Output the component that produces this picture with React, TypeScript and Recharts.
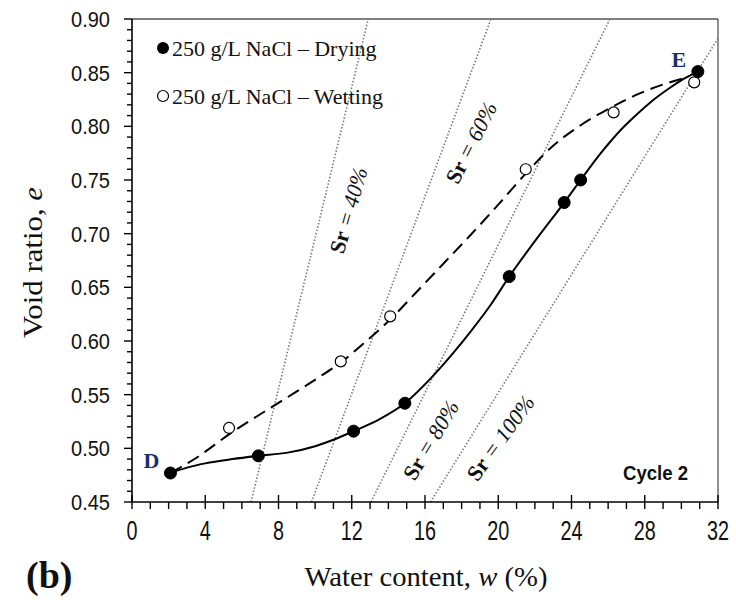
import {
  ComposedChart,
  Line,
  XAxis,
  YAxis,
  ReferenceLine,
  ReferenceDot,
  Legend,
} from "recharts"

// drying branch, D -> E (filled markers)
const dryW = [2.1, 6.9, 12.1, 14.9, 20.6, 23.6, 24.5, 30.9]
const dryE = [0.477, 0.493, 0.516, 0.542, 0.66, 0.729, 0.75, 0.851]

// wetting branch (open markers)
const wetW = [5.3, 11.4, 14.1, 21.5, 26.3, 30.7]
const wetE = [0.519, 0.581, 0.623, 0.76, 0.813, 0.841]

// fitted drying curve (solid)
const dryFitW = [2.1, 3.0, 4.0, 5.5, 6.9, 8.5, 10.0, 11.0, 12.1, 13.5, 14.9, 16.3, 17.5, 18.5, 19.6, 20.6, 22.0, 23.6, 24.5, 25.6, 26.6, 27.5, 28.5, 29.3, 30.1, 30.9]
const dryFitE = [0.477, 0.482, 0.486, 0.49, 0.493, 0.496, 0.502, 0.508, 0.516, 0.527, 0.542, 0.565, 0.588, 0.609, 0.634, 0.66, 0.693, 0.729, 0.75, 0.775, 0.795, 0.81, 0.825, 0.835, 0.844, 0.851]

// fitted wetting curve (dashed)
const wetFitW = [2.1, 3.5, 5.3, 7.4, 9.0, 10.1, 11.4, 12.8, 14.1, 15.5, 17.0, 18.5, 20.0, 21.5, 23.0, 24.5, 26.0, 27.5, 29.0, 30.4]
const wetFitE = [0.477, 0.491, 0.513, 0.536, 0.553, 0.565, 0.58, 0.6, 0.62, 0.645, 0.672, 0.699, 0.727, 0.756, 0.782, 0.801, 0.816, 0.829, 0.839, 0.846]

// degree of saturation iso-lines: end points in (w, e)
const srNames = ["40%", "60%", "80%", "100%"]
const srFromW = [6.5, 9.8, 13.05, 16.3]
const srFromE = [0.45, 0.45, 0.45, 0.45]
const srToW = [12.9, 19.6, 26.1, 32]
const srToE = [0.9, 0.9, 0.9, 0.882]

const xLabels = [0, 4, 8, 12, 16, 20, 24, 28, 32]
const yLabels = [0.45, 0.5, 0.55, 0.6, 0.65, 0.7, 0.75, 0.8, 0.85, 0.9]

// label placement for the Sr lines (data coords + text slant)
const srNotes = [
  { w: 11.8, e: 0.722, angle: -74 },
  { w: 18.5, e: 0.785, angle: -63 },
  { w: 16.3, e: 0.508, angle: -59 },
  { w: 20.1, e: 0.51, angle: -54 },
]

const dryData = dryW.map((w, i) => ({ w, e: dryE[i] }))
const wetData = wetW.map((w, i) => ({ w, e: wetE[i] }))
const dryFit = dryFitW.map((w, i) => ({ w, e: dryFitE[i] }))
const wetFit = wetFitW.map((w, i) => ({ w, e: wetFitE[i] }))

const xTicks = Array.from({ length: 33 }, (_, i) => i)
const yTicks = Array.from({ length: 46 }, (_, i) => Math.round((0.45 + i * 0.01) * 100) / 100)

const SANS = "'Liberation Sans', Arial, sans-serif"
const SERIF = "'Liberation Serif', 'Times New Roman', serif"
const NAVY = "#1c2f6b"

const XTick = (props: any) => {
  const { x, y, payload } = props
  const v = payload.value
  const major = xLabels.includes(v)
  const s = String(v)
  return (
    <g>
      <line x1={x} x2={x} y1={major ? y - 7 : y} y2={y + 7} stroke="#000" strokeWidth={1.4} />
      {major && (
        <text
          x={x}
          y={y + 38}
          textAnchor="middle"
          fontFamily={SANS}
          fontSize={27}
          textLength={s.length * 11}
          lengthAdjust="spacingAndGlyphs"
          fill="#111"
        >
          {s}
        </text>
      )}
    </g>
  )
}

const YTick = (props: any) => {
  const { x, y, payload } = props
  const v = payload.value
  const major = yLabels.some((l) => Math.abs(l - v) < 1e-9)
  return (
    <g>
      <line x1={major ? x - 8 : x - 5} x2={x} y1={y} y2={y} stroke="#000" strokeWidth={1.4} />
      {major && (
        <text
          x={x - 22}
          y={y + 8}
          textAnchor="end"
          fontFamily={SANS}
          fontSize={22}
          textLength={39}
          lengthAdjust="spacingAndGlyphs"
          fill="#111"
        >
          {v.toFixed(2)}
        </text>
      )}
    </g>
  )
}

const XTitle = (props: any) => {
  const { viewBox } = props
  return (
    <text
      x={viewBox.x + viewBox.width / 2 + 1}
      y={viewBox.y + 84}
      textAnchor="middle"
      fontFamily={SERIF}
      fontSize={27}
      textLength={243}
      lengthAdjust="spacingAndGlyphs"
      fill="#111"
    >
      Water content, <tspan fontStyle="italic">w</tspan> (%)
    </text>
  )
}

const YTitle = (props: any) => {
  const { viewBox } = props
  const cy = viewBox.y + viewBox.height / 2 + 2
  return (
    <text
      x={42}
      y={cy}
      transform={`rotate(-90, 42, ${cy})`}
      textAnchor="middle"
      fontFamily={SERIF}
      fontSize={27}
      textLength={151}
      lengthAdjust="spacingAndGlyphs"
      fill="#111"
    >
      Void ratio, <tspan fontStyle="italic">e</tspan>
    </text>
  )
}

const LegendBox = () => (
  <svg width={260} height={84} style={{ display: "block" }}>
    <circle cx={13} cy={18} r={6} fill="#000" />
    <text x={22} y={26} fontFamily={SERIF} fontSize={22} fill="#111">
      250 g/L NaCl – Drying
    </text>
    <circle cx={13} cy={66} r={5.5} fill="#fff" stroke="#000" strokeWidth={1.2} />
    <text x={22} y={74} fontFamily={SERIF} fontSize={22} fill="#111">
      250 g/L NaCl – Wetting
    </text>
  </svg>
)

const srLabel = (name: string, angle: number) => (p: any) => (
  <text
    x={p.cx}
    y={p.cy}
    transform={`rotate(${angle}, ${p.cx}, ${p.cy})`}
    textAnchor="middle"
    dominantBaseline="central"
    fontFamily={SERIF}
    fontSize={22}
    fill="#111"
  >
    <tspan fontWeight="bold">Sr</tspan>
    <tspan fontStyle="italic"> = {name}</tspan>
  </text>
)

const pointTag = (text: string, dx: number, dy: number) => (p: any) => (
  <text
    x={p.cx + dx}
    y={p.cy + dy}
    textAnchor="middle"
    fontFamily={SERIF}
    fontWeight="bold"
    fontSize={22}
    fill={NAVY}
  >
    {text}
  </text>
)

const cycleTag = (p: any) => (
  <text
    x={p.cx - 30}
    y={p.cy - 22}
    textAnchor="end"
    fontFamily={SANS}
    fontWeight="bold"
    fontSize={21}
    textLength={65}
    lengthAdjust="spacingAndGlyphs"
    fill="#111"
  >
    Cycle 2
  </text>
)

export default function App() {
  const last = dryData.length - 1
  return (
    <div style={{ position: "absolute", left: 0, top: 0, width: 736, height: 600, background: "#fff" }}>
      <ComposedChart width={736} height={600} margin={{ top: 19, right: 18, left: 0, bottom: 0 }}>
        <XAxis
          dataKey="w"
          type="number"
          domain={[0, 32]}
          ticks={xTicks}
          interval={0}
          height={98}
          tickSize={0}
          tickMargin={0}
          tickLine={false}
          tick={<XTick />}
          axisLine={{ stroke: "#000", strokeWidth: 1.6 }}
          label={<XTitle />}
          allowDataOverflow
        />
        <YAxis
          type="number"
          domain={[0.45, 0.9]}
          ticks={yTicks}
          interval={0}
          width={132}
          tickSize={0}
          tickMargin={0}
          tickLine={false}
          tick={<YTick />}
          axisLine={{ stroke: "#000", strokeWidth: 1.6 }}
          label={<YTitle />}
          allowDataOverflow
        />

        {/* plot frame, top and right */}
        <ReferenceLine y={0.9} stroke="#555" strokeWidth={1.3} ifOverflow="visible" />
        <ReferenceLine x={32} stroke="#555" strokeWidth={1.3} ifOverflow="visible" />

        {srNames.map((name, i) => (
          <ReferenceLine
            key={name}
            segment={[
              { x: srFromW[i], y: srFromE[i] },
              { x: srToW[i], y: srToE[i] },
            ]}
            stroke="#7a7a7a"
            strokeWidth={1.6}
            strokeDasharray="1.5 1.9"
            ifOverflow="visible"
          />
        ))}
        {srNames.map((name, i) => (
          <ReferenceDot
            key={"lab" + name}
            x={srNotes[i].w}
            y={srNotes[i].e}
            r={0}
            ifOverflow="visible"
            shape={srLabel(name, srNotes[i].angle)}
          />
        ))}

        <Line
          data={wetFit}
          dataKey="e"
          type="monotone"
          stroke="#000"
          strokeWidth={2}
          strokeDasharray="13 7"
          dot={false}
          activeDot={false}
          legendType="none"
          isAnimationActive={false}
        />
        <Line
          data={dryFit}
          dataKey="e"
          type="monotone"
          stroke="#000"
          strokeWidth={2}
          dot={false}
          activeDot={false}
          legendType="none"
          isAnimationActive={false}
        />
        <Line
          data={wetData}
          dataKey="e"
          name="250 g/L NaCl – Wetting"
          stroke="none"
          dot={{ r: 5.5, fill: "#fff", stroke: "#000", strokeWidth: 1.2 }}
          activeDot={false}
          isAnimationActive={false}
        />
        <Line
          data={dryData}
          dataKey="e"
          name="250 g/L NaCl – Drying"
          stroke="none"
          dot={{ r: 6, fill: "#000", stroke: "#000", strokeWidth: 1 }}
          activeDot={false}
          isAnimationActive={false}
        />

        <ReferenceDot x={dryData[0].w} y={dryData[0].e} r={0} ifOverflow="visible" shape={pointTag("D", -19, -5)} />
        <ReferenceDot
          x={dryData[last].w}
          y={dryData[last].e}
          r={0}
          ifOverflow="visible"
          shape={pointTag("E", -19, -5)}
        />
        <ReferenceDot x={32} y={0.45} r={0} ifOverflow="visible" shape={cycleTag} />

        <Legend
          layout="horizontal"
          verticalAlign="middle"
          align="center"
          content={<LegendBox />}
          wrapperStyle={{ left: 150, top: 30, width: 260, height: 84 }}
        />
      </ComposedChart>
      <svg width={120} height={60} style={{ position: "absolute", left: 0, top: 540 }}>
        <text x={26} y={48} fontFamily={SERIF} fontWeight="bold" fontSize={38} fill="#111">
          (b)
        </text>
      </svg>
    </div>
  )
}
